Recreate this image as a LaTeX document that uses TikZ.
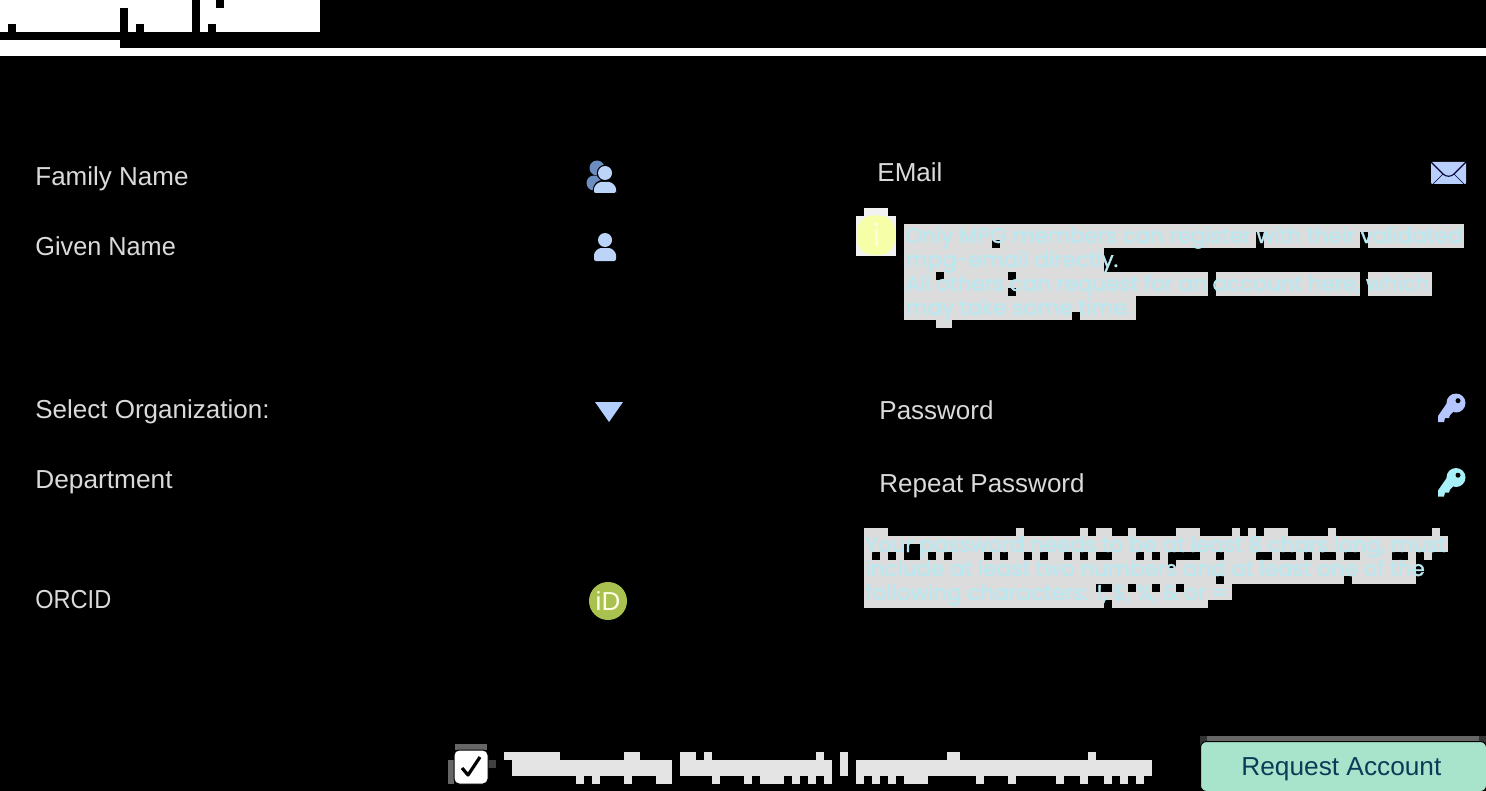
\documentclass[tikz,border=0pt]{standalone}
\usepackage{fontspec}
\usepackage{graphicx}
\usetikzlibrary{calc}
\setmainfont{Liberation Sans}
\newfontfamily\notefont[FakeBold=1.6]{Poppins}
\definecolor{lbl}{HTML}{DADADA}
\definecolor{band}{HTML}{DCDCDC}
\definecolor{notetx}{HTML}{BBE8F0}
\definecolor{bar}{HTML}{E4E4E4}
\definecolor{icon}{HTML}{BCD4F8}
\definecolor{iconb}{HTML}{6C8DC0}
\definecolor{envc}{HTML}{B9CFFC}
\definecolor{trianc}{HTML}{B3CEFF}
\definecolor{orc}{HTML}{A9C24F}
\definecolor{btnc}{HTML}{A8E4CC}
\definecolor{btnt}{HTML}{0D3B57}
\definecolor{yel}{HTML}{F6FFA8}
\definecolor{infobg}{HTML}{F2F2F2}
\tikzset{
  x=0.5pt,y=-0.5pt,
  lab/.style={anchor=base west,inner sep=0pt,text=lbl,font=\fontsize{13}{15}\selectfont},
  note/.style={anchor=base west,inner sep=0pt,text=notetx,font=\notefont\fontsize{10.72}{12}\selectfont},
}
\newcommand{\blk}[5]{\fill[#1] (#2,#3) rectangle (#4,#5);}
\begin{document}
\begin{tikzpicture}
\useasboundingbox (0,0) rectangle (1486,791);
\fill[black] (0,0) rectangle (1486,791);
% title blocks
\fill[white] (0,0) rectangle (320,32);
\blk{white}{0}{40}{120}{48}
\blk{white}{0}{48}{1486}{56}
\blk{black}{8}{24}{16}{32}
\blk{black}{120}{8}{128}{32}
\blk{black}{136}{24}{144}{32}
\blk{black}{192}{0}{200}{32}
\blk{black}{216}{0}{224}{8}
\blk{black}{208}{24}{216}{32}
% labels
\node[lab] (family) at (35,185) {Family Name};
\node[lab] (given) at (35,256) {\scalebox{0.972}[1]{Given Name}};
\node[lab] (org) at (35,418) {Select Organization:};
\node[lab] (dept) at (35,488) {\scalebox{1.01}[1]{Department}};
\node[lab] (orcid) at (35,608) {\scalebox{0.906}[1]{ORCID}};
\node[lab] (email) at (877,182) {EMail};
\node[lab] (pw) at (879,419) {Password};
\node[lab] (rpw) at (879,492) {Repeat Password};
% person icons
\fill[iconb] (597,168) circle (7.5);
\fill[iconb] (594,183) circle (7.5);
\fill[black] (605,173) circle (8.2);
\fill[black] (592.8,195) -- (592.8,190) arc (180:270:10) -- (607,180.8) arc (270:360:10) -- (617.2,195) -- cycle;
\fill[icon] (605,173) circle (7);
\fill[icon,rounded corners=1pt] (594,193) -- (594,191) arc (180:270:9) -- (607,182) arc (270:360:9) -- (616,193) -- cycle;
\fill[icon] (605,240) circle (7);
\fill[icon,rounded corners=1pt] (594,261) -- (594,257) arc (180:270:9) -- (607,248) arc (270:360:9) -- (616,261) -- cycle;
% envelope
\fill[envc,rounded corners=.5pt] (1431,162) rectangle (1466,184);
\draw[black!80!blue,line width=.55pt] (1431,162) -- (1443,174) .. controls (1446,177) and (1451,177) .. (1454,174) -- (1466,162);
\draw[black!80!blue,line width=.3pt] (1433,184) -- (1443,174) (1454,174) -- (1464,184);
% keys
\foreach \cy/\col in {403/B5C6FF,477.5/A8F0F8}{
  \definecolor{keyc}{HTML}{\col}
  \fill[keyc] (1456,\cy) circle (9.5);
  \fill[keyc] (1447,\cy) -- (1438,\cy+13) -- (1438,\cy+19) -- (1444,\cy+19) -- (1445,\cy+15) -- (1449,\cy+15) -- (1450,\cy+12) -- (1453,\cy+9) -- cycle;
  \fill[black] (1458,\cy-2.3) circle (2.5);
}
% triangle
\fill[trianc] (595,402) -- (623,402) -- (609,422) -- cycle;
% orcid
\fill[orc] (608,601) circle (19);
\node[inner sep=0pt,text=white!90!yellow,font=\fontsize{13}{14}\selectfont] (idmark) at (608,601) {iD};
% info
\fill[infobg] (856,216) rectangle (896,256);
\fill[infobg] (864,208) rectangle (888,216);
\fill[yel,rounded corners=8pt] (857,215.5) rectangle (895,255);
\fill[white!85!yellow] (874.5,229) rectangle (877.5,246);
\fill[white!85!yellow] (876,224.5) circle (2);
% note 1 band
\fill[band] (904,224) rectangle (1464,248);
\fill[band] (904,248) rectangle (1104,272);
\fill[band] (904,272) rectangle (1432,296);
\fill[band] (904,296) rectangle (1136,320);
\fill[band] (936,320) rectangle (952,328);
\blk{black}{1256}{232}{1264}{248}
\blk{black}{1360}{232}{1368}{248}
\blk{black}{992}{240}{1000}{248}
\blk{black}{936}{272}{944}{280}
\blk{black}{1008}{272}{1016}{280}
\blk{black}{1008}{288}{1016}{296}
\blk{black}{1208}{272}{1216}{296}
\blk{black}{1360}{272}{1368}{296}
\blk{black}{1072}{312}{1080}{320}
\node[note] (n1) at (905,243) {Only MPG members can register with their validated};
\node[note] (n2) at (905,267) {mpg-email directly.};
\node[note] (n3) at (905,291) {All others can request for an account here, which};
\node[note] (n4) at (905,315) {may take some time.};
% note 2 band
\fill[band] (864,536) rectangle (1448,552);
\fill[band] (864,552) rectangle (1416,584);
\fill[band] (1424,552) rectangle (1432,560);
\fill[band] (864,584) rectangle (1232,600);
\fill[band] (864,600) rectangle (1208,608);
\foreach \a/\b in {864/888,1016/1024,1080/1088,1096/1112,1128/1136,1176/1200,1232/1240,1248/1256,1264/1288,1328/1336,1432/1440}
  \fill[band] (\a,528) rectangle (\b,536);
\foreach \a/\b in {872/880,888/896,928/936,944/952,984/992,1000/1008,1024/1032,1040/1048,1064/1072,1080/1088,1096/1112,1136/1144,1152/1160,1168/1200,1216/1224,1256/1272,1280/1296,1304/1312,1320/1336,1344/1360,1392/1408}
  \fill[black] (\a,552) rectangle (\b,560);
\blk{black}{904}{544}{920}{560}
\blk{black}{1168}{560}{1176}{568}
\blk{black}{1216}{576}{1224}{584}
\blk{black}{1344}{576}{1352}{584}
\foreach \a/\b in {1096/1112,1128/1136,1152/1160,1176/1184}
  \fill[black] (\a,584) rectangle (\b,592);
\blk{black}{1104}{600}{1112}{608}
\node[note] (p1) at (865,552) {Your password needs to be at least 8 chars long, must};
\node[note] (p2) at (865,576) {include at least two numbers and at least one of the};
\node[note] (p3) at (865,600) {following characters: !, \$, \%, \& or =};
% checkbox
\fill[black!60!white] (455,744) rectangle (487,750);
\fill[black!60!white] (448,760) rectangle (454,784);
\fill[black!75!white] (488,760) rectangle (496,768);
\node[draw=black,fill=white,rounded corners=2.5pt,line width=.5pt,minimum width=17pt,minimum height=17pt,inner sep=0pt] (check) at (471,767) {};
\draw[black,line width=1.6pt,line join=round] ($(check.center)+(-9,1)$) -- ($(check.center)+(-3,8)$) -- ($(check.center)+(9,-10)$);
% consent blocks
\fill[bar] (512,760) rectangle (672,776);
\fill[bar] (680,760) rectangle (832,776);
\fill[bar] (840,752) rectangle (848,776);
\fill[bar] (856,760) rectangle (1152,776);
\foreach \a/\b in {504/560,624/640,680/696,704/712,816/824,947/960,1088/1096}
  \fill[bar] (\a,752) rectangle (\b,760);
\foreach \a/\b in {576/584,592/600,624/632,656/672,712/720,744/752,760/784,792/800,808/816,824/832,856/864,872/880,888/896,904/928,976/984,1008/1016,1056/1064,1080/1088,1104/1112,1120/1128,1136/1144}
  \fill[bar] (\a,776) rectangle (\b,784);
% button
\fill[black!60!white] (1200,736) rectangle (1486,745);
\fill[black!80!white] (1200,736) rectangle (1207,745);
\fill[black!80!white] (1479,736) rectangle (1486,745);
\node[draw=black,fill=btnc,rounded corners=3pt,line width=.5pt,anchor=north west,minimum width=143pt,minimum height=25pt,inner sep=0pt] (btn) at (1200,741) {};
\node[anchor=base west,inner sep=0pt,text=btnt,font=\fontsize{13}{15}\selectfont] (btntxt) at (1241,775) {\scalebox{1.01}[1]{Request Account}};
\end{tikzpicture}
\end{document}
